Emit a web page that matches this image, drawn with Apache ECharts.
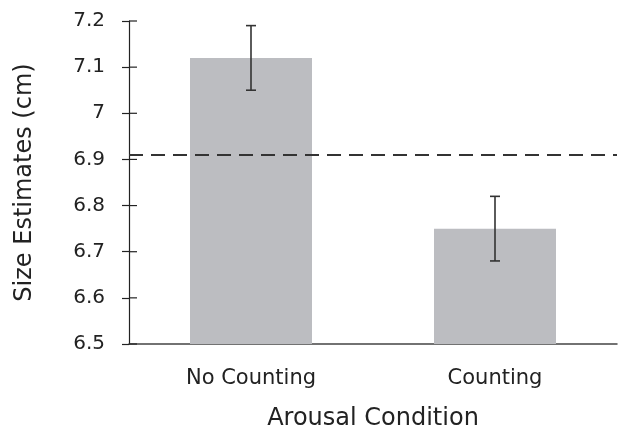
<!DOCTYPE html>
<html><head><meta charset="utf-8">
<script src="https://cdn.jsdelivr.net/npm/echarts@6/dist/echarts.min.js"></script>
<style>html,body{margin:0;padding:0;background:#fff}#c{width:619px;height:430px}</style>
</head><body><div id="c"></div>
<script>
const categories = ['No Counting', 'Counting'];
const means = [7.12, 6.75];
const errLow = [7.05, 6.68];
const errHigh = [7.19, 6.82];
const referenceLine = 6.91;
const yTickLabels = ['6.5', '6.6', '6.7', '6.8', '6.9', '7', '7.1', '7.2'];
const yMin = 6.5, yMax = 7.2, yStep = 0.1;

const font = 'DejaVu Sans, Verdana, sans-serif';
const chart = echarts.init(document.getElementById('c'));
chart.setOption({
  animation: false,
  grid: {left: 129, right: 2, top: 21, bottom: 86, containLabel: false, outerBoundsMode: 'none'},
  xAxis: {
    type: 'category', data: categories,
    axisTick: {show: false},
    axisLine: {lineStyle: {color: '#444', width: 1.5}},
    axisLabel: {color: '#222', fontSize: 21, fontFamily: font, margin: 24},
    name: 'Arousal Condition', nameLocation: 'middle', nameGap: 63,
    nameTextStyle: {color: '#222', fontSize: 24, fontFamily: font}
  },
  yAxis: {
    type: 'value', min: yMin, max: yMax, interval: yStep,
    splitLine: {show: false},
    axisLine: {show: true, lineStyle: {color: '#222', width: 1.2}},
    axisTick: {show: true, length: 7, lineStyle: {color: '#222', width: 1.2}},
    axisLabel: {color: '#222', fontSize: 20, fontFamily: font, margin: 24,
      formatter: v => yTickLabels[Math.round((v - yMin) / yStep)]},
    name: 'Size Estimates (cm)', nameLocation: 'middle', nameGap: 92,
    nameTextStyle: {color: '#222', fontSize: 24, fontFamily: font}
  },
  series: [{
    type: 'bar', data: means, barWidth: '50%',
    itemStyle: {color: '#bcbdc1'},
    markLine: {
      silent: true, symbol: 'none', label: {show: false},
      lineStyle: {color: '#333', width: 2, type: [14, 8]},
      data: [{yAxis: referenceLine}]
    }
  }, {
    type: 'custom', z: 10,
    data: categories.map((c, i) => [i, errLow[i], errHigh[i]]),
    renderItem: (params, api) => {
      const lo = api.coord([api.value(0), api.value(1)]);
      const hi = api.coord([api.value(0), api.value(2)]);
      const w = 5;
      const st = {stroke: '#333', lineWidth: 1.6};
      return {type: 'group', children: [
        {type: 'line', shape: {x1: lo[0], y1: lo[1], x2: hi[0], y2: hi[1]}, style: st},
        {type: 'line', shape: {x1: lo[0]-w, y1: lo[1], x2: lo[0]+w, y2: lo[1]}, style: st},
        {type: 'line', shape: {x1: hi[0]-w, y1: hi[1], x2: hi[0]+w, y2: hi[1]}, style: st}
      ]};
    }
  }, {
    type: 'custom', z: 20, clip: false,
    data: yTickLabels.map(t => [0, parseFloat(t)]),
    renderItem: (params, api) => {
      const p = api.coord([0, api.value(1)]);
      const band = api.size([1, 0])[0];
      const x0 = p[0] - band / 2;
      return {type: 'line', shape: {x1: x0, y1: p[1], x2: x0 + 8, y2: p[1]},
        style: {stroke: '#222', lineWidth: 1.2}};
    }
  }]
});
</script></body></html>
